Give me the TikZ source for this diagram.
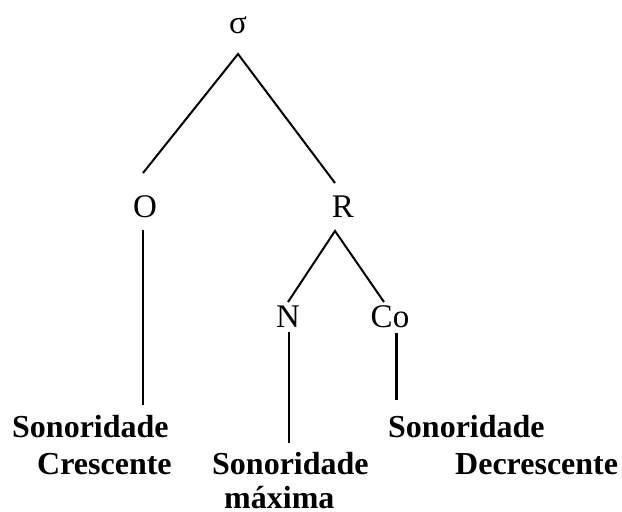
\documentclass[tikz,border=0pt]{standalone}
\usepackage{fontspec}
\setmainfont{Liberation Serif}
\begin{document}
\begin{tikzpicture}[x=1pt,y=1pt,
  lab/.style={inner sep=0pt,anchor=base,font=\fontsize{33}{38}\selectfont},
  blab/.style={inner sep=0pt,anchor=base west,font=\fontsize{32}{37}\selectfont\bfseries},
  edge/.style={line width=2pt},
  thickedge/.style={line width=3pt}]
\useasboundingbox (0,0) rectangle (622,-512);
% labels
\node[lab] (sigma) at (238,-33) {σ};
\node[lab] (O) at (145,-217) {O};
\node[lab] (R) at (343,-217) {R};
\node[lab] (N) at (288,-327) {N};
\node[lab] (Co) at (390,-327) {Co};
\node[blab] (s1) at (12,-437) {Sonoridade};
\node[blab] (c1) at (37,-474) {Crescente};
\node[blab] (s2) at (212,-474) {Sonoridade};
\node[blab] (m2) at (224,-508) {máxima};
\node[blab] (s3) at (388,-437) {Sonoridade};
\node[blab] (d3) at (455,-474) {Decrescente};
% connector ends
\coordinate (sA) at (238,-54);
\coordinate (oT) at (143,-173);
\coordinate (rT) at (335,-183);
\coordinate (rA) at (335,-231);
\coordinate (nT) at (288,-302);
\coordinate (cT) at (384,-302);
\coordinate (oA) at (143,-230);
\coordinate (oB) at (143,-405);
\coordinate (nA) at (289,-332);
\coordinate (nB) at (289,-443);
\coordinate (cA) at (396,-333);
\coordinate (cB) at (396,-400);
\draw[edge] (oT) -- (sA) -- (rT);
\draw[edge] (nT) -- (rA) -- (cT);
\draw[edge] (oA) -- (oB);
\draw[edge] (nA) -- (nB);
\draw[thickedge] (cA) -- (cB);
\end{tikzpicture}
\end{document}
